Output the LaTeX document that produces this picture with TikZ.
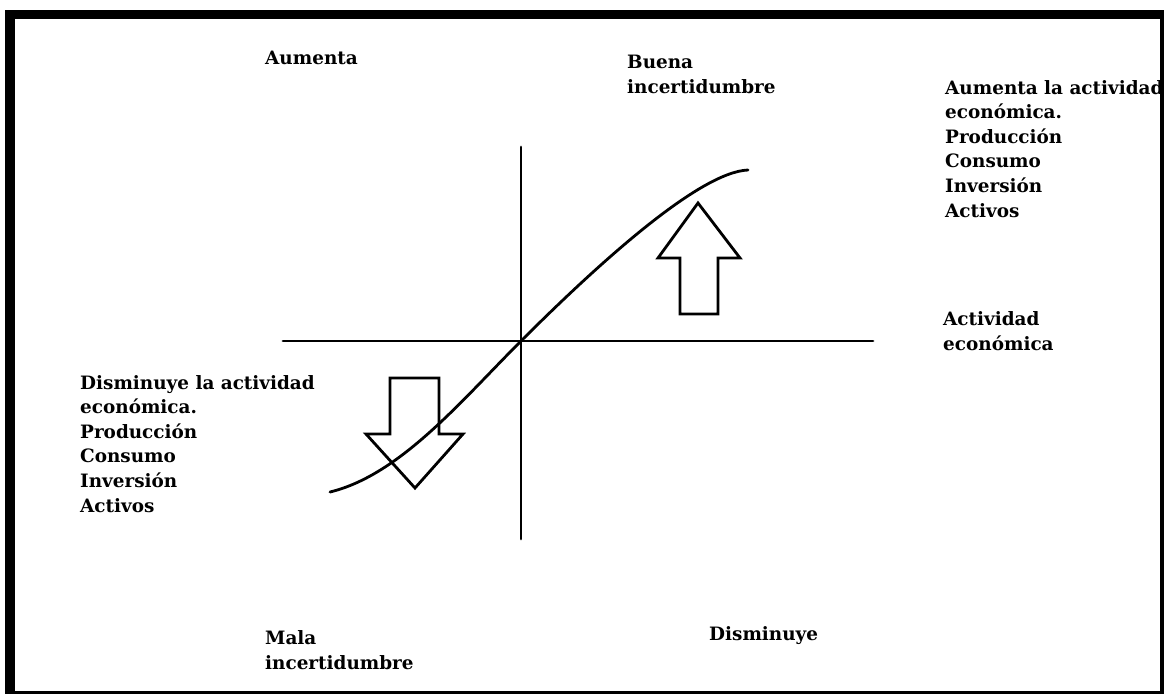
\documentclass[tikz,border=0pt]{standalone}
\usepackage{fontspec}
\setmainfont{DejaVu Serif}
\begin{document}
\begin{tikzpicture}[x=1pt,y=-1pt,
  lbl/.style={anchor=base west,inner sep=0pt,align=left,font=\fontsize{18.4}{24.6}\selectfont\bfseries},
  ln/.style={line width=2.8pt,line cap=round},
  bigarrow/.style={line width=2.8pt,line join=miter}]
\useasboundingbox (0,0) rectangle (1164,694);
% frame
\fill[black] (5,10) rectangle (1164,19);
\fill[black] (5,10) rectangle (15,694);
\fill[black] (1160,10) rectangle (1164,694);
\fill[black] (5,691) rectangle (1164,694);
% axes
\coordinate (hl) at (283,341);
\coordinate (hr) at (873,341);
\coordinate (vt) at (521,147);
\coordinate (vb) at (521,539);
\coordinate (o) at (521,341);
\draw[ln] (hl) -- (hr);
\draw[ln] (vt) -- (vb);
% curve
\coordinate (cs) at (330,492);
\coordinate (ce) at (748,170);
\draw[ln] (cs) .. controls (400,475) and (461,401) .. (o)
  .. controls (601,261) and (700,172) .. (ce);
% up arrow
\draw[bigarrow] (680,314) -- (680,258) -- (658,258) -- (698,203) -- (740,258) -- (718,258) -- (718,314) -- cycle;
% down arrow
\draw[bigarrow] (390,378) -- (390,434) -- (366,434) -- (415,488) -- (463,434) -- (439,434) -- (439,378) -- cycle;
% labels (anchor = baseline of last line)
\node[lbl] (aum) at (265,64) {Aumenta};
\node[lbl] (buena) at (627,93) {Buena\\incertidumbre};
\node[lbl] (right) at (945,217) {Aumenta la actividad\\económica.\\Producción\\Consumo\\Inversión\\Activos};
\node[lbl] (act) at (943,350) {Actividad\\económica};
\node[lbl] (left) at (80,512) {Disminuye la actividad\\económica.\\Producción\\Consumo\\Inversión\\Activos};
\node[lbl] (mala) at (265,669) {Mala\\incertidumbre};
\node[lbl] (dis) at (709,640) {Disminuye};
\end{tikzpicture}
\end{document}
